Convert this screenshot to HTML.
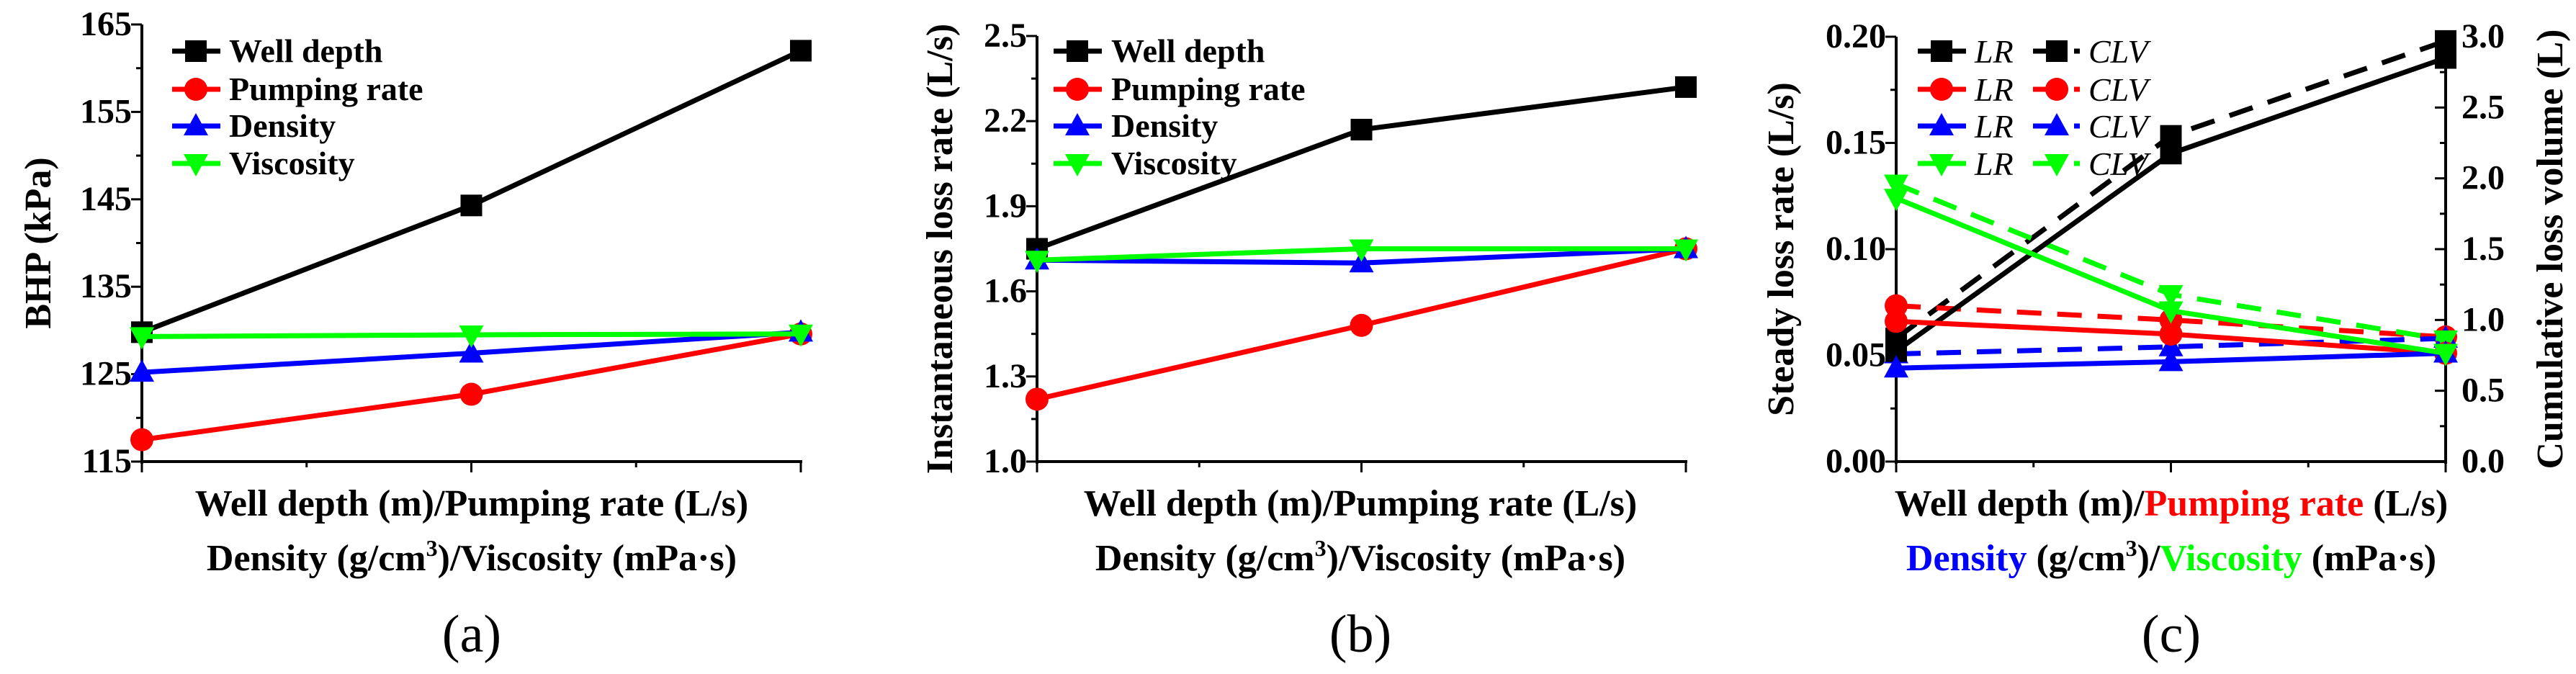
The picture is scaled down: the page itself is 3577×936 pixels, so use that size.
<!DOCTYPE html>
<html><head><meta charset="utf-8"><style>
html,body{margin:0;padding:0;background:#fff;}
svg{display:block;font-family:"Liberation Serif",serif;font-weight:bold;}
</style></head><body>
<svg id="fig" width="3577" height="936" viewBox="0 0 3577 936" xmlns="http://www.w3.org/2000/svg" font-family="Liberation Serif, serif" font-weight="bold"></svg>
<script>
const NS="http://www.w3.org/2000/svg";
const seriesNames=["Well depth","Pumping rate","Density","Viscosity"];
const colors=["#000000","#ff0000","#0000ff","#00ff00"];
const markers=["square","circle","up","down"];
// panel a
const aTicks=[115,125,135,145,155,165];
const aWell=[129.8,144.3,162.0];
const aPump=[117.5,122.7,129.6];
const aDens=[125.2,127.4,129.8];
const aVisc=[129.3,129.5,129.6];
// panel b
const bTicks=["1.0","1.3","1.6","1.9","2.2","2.5"];
const bWell=[1.75,2.17,2.32];
const bPump=[1.22,1.48,1.75];
const bDens=[1.71,1.70,1.75];
const bVisc=[1.71,1.75,1.75];
// panel c
const cLeftTicks=["0.00","0.05","0.10","0.15","0.20"];
const cRightTicks=["0.0","0.5","1.0","1.5","2.0","2.5","3.0"];
const cLRWell=[0.052,0.145,0.190];
const cLRPump=[0.066,0.060,0.051];
const cLRDens=[0.044,0.047,0.051];
const cLRVisc=[0.124,0.071,0.051];
const cCLVWell=[0.87,2.30,2.97];
const cCLVPump=[1.10,1.00,0.88];
const cCLVDens=[0.76,0.81,0.87];
const cCLVVisc=[1.96,1.18,0.86];

const svg=document.getElementById('fig');
function el(tag,attrs,parent){const e=document.createElementNS(NS,tag);for(const k in attrs)e.setAttribute(k,attrs[k]);(parent||svg).appendChild(e);return e;}
function txt(s,x,y,size,attrs,parent){const t=el('text',Object.assign({x:x,y:y,'font-size':size,'font-family':'Liberation Serif, serif'},attrs||{}),parent);t.textContent=s;return t;}
function marker(type,x,y,c,g){
  const s=15;
  let m;
  if(type==="square") m=el('rect',{x:x-s,y:y-s,width:2*s,height:2*s,fill:c},g);
  else if(type==="circle") m=el('circle',{cx:x,cy:y,r:s+1,fill:c},g);
  else if(type==="up") m=el('polygon',{points:`${x},${y-s-3} ${x-s-2},${y+s-2} ${x+s+2},${y+s-2}`,fill:c},g);
  else m=el('polygon',{points:`${x},${y+s+3} ${x-s-2},${y-s+2} ${x+s+2},${y-s+2}`,fill:c},g);
  
  
}
function series(vals,xf,yf,c,mk,dash,name){
  const g=el('g',{});
  
  
  const pts=vals.map((v,i)=>xf(i)+','+yf(v)).join(' ');
  const a={points:pts,fill:'none',stroke:c,'stroke-width':7};
  if(dash)a['stroke-dasharray']='34,22';
  el('polyline',a,g);
  vals.forEach((v,i)=>marker(mk,xf(i),yf(v),c,g));
}
function axesFrame(p,ticks,tickVals,lo,hi,ylabel,ylabX,name){
  const g=el('g',{});
  
  
  const y=v=>p.b-(v-lo)/(hi-lo)*(p.b-p.t);
  el('line',{x1:p.l,y1:p.t,x2:p.l,y2:p.b+3,stroke:'#000','stroke-width':4},g);
  el('line',{x1:p.l-2,y1:p.b,x2:p.r+2,y2:p.b,stroke:'#000','stroke-width':4},g);
  for(let i=0;i<tickVals.length;i++){
    const yy=y(tickVals[i]);
    el('line',{x1:p.l-15,y1:yy,x2:p.l,y2:yy,stroke:'#000','stroke-width':3},g);
    txt(ticks[i],p.l-14,yy+15,48,{'text-anchor':'end'},g);
    if(i<tickVals.length-1){const ym=y((tickVals[i]+tickVals[i+1])/2);
      el('line',{x1:p.l-8,y1:ym,x2:p.l,y2:ym,stroke:'#000','stroke-width':3},g);}
  }
  for(let k=0;k<=4;k++){const xx=p.l+(p.r-p.l)*k/4;
    el('line',{x1:xx,y1:p.b,x2:xx,y2:p.b+(k%2?8:15),stroke:'#000','stroke-width':3},g);}
  const yl=txt(ylabel,0,0,52,{'text-anchor':'middle',transform:`translate(${ylabX},${(p.t+p.b)/2}) rotate(-90)`},g);
  
  return y;
}
function xlabels(cx,letter,colored){
  const g=el('g',{});
  
  
  const t1=el('text',{x:cx,y:716,'font-size':52,'text-anchor':'middle','font-family':'Liberation Serif, serif'},g);
  const t2=el('text',{x:cx,y:792,'font-size':52,'text-anchor':'middle','font-family':'Liberation Serif, serif'},g);
  if(colored){
    t1.innerHTML='Well depth (m)/<tspan fill="#ff0000">Pumping rate</tspan> (L/s)';
    t2.innerHTML='<tspan fill="#0000ff">Density</tspan> (g/cm<tspan dy="-20" font-size="32">3</tspan><tspan dy="20">)/</tspan><tspan fill="#00ff00">Viscosity</tspan> (mPa·s)';
  } else {
    t1.textContent='Well depth (m)/Pumping rate (L/s)';
    t2.innerHTML='Density (g/cm<tspan dy="-20" font-size="32">3</tspan><tspan dy="20">)/Viscosity (mPa·s)</tspan>';
  }
  const l=txt('('+letter+')',cx,905,74,{'text-anchor':'middle','font-weight':'normal'});
  
  
}
function legend(lx,tx,rows){
  const g=el('g',{});
  
  
  rows.forEach((yy,i)=>{
    const e=el('g',{},g);
    
    
    el('line',{x1:lx,y1:yy,x2:lx+67,y2:yy,stroke:colors[i],'stroke-width':7},e);
    marker(markers[i],lx+33,yy,colors[i],e);
    txt(seriesNames[i],tx,yy+15,46,{},e);
  });
}
const legRows=[71,124,175,227];
// Panel a
(function(){
  const p={l:197,r:1112,t:34,b:641};
  const y=axesFrame(p,aTicks.map(String),aTicks,115,165,'BHP (kPa)',70,'panel-a');
  const x=i=>p.l+(p.r-p.l)*i/2;
  const data=[aWell,aPump,aDens,aVisc];
  data.forEach((d,i)=>series(d,x,y,colors[i],markers[i],false,'series-a-'+i));
  legend(239,318,legRows);
  xlabels(655,'a',false);
})();
// Panel b
(function(){
  const p={l:1440,r:2341,t:50,b:641};
  const y=axesFrame(p,bTicks,bTicks.map(Number),1.0,2.5,'Instantaneous loss rate (L/s)',1322,'panel-b');
  const x=i=>p.l+(p.r-p.l)*i/2;
  [bWell,bPump,bDens,bVisc].forEach((d,i)=>series(d,x,y,colors[i],markers[i],false,'series-b-'+i));
  legend(1463,1543,legRows);
  xlabels(1889,'b',false);
})();
// Panel c
(function(){
  const p={l:2633,r:3396,t:51,b:641};
  const y=axesFrame(p,cLeftTicks,cLeftTicks.map(Number),0,0.20,'Steady loss rate (L/s)',2490,'panel-c');
  const g=el('g',{});
  
  
  const rv=cRightTicks.map(Number);
  const y2=v=>p.b-v/3.0*(p.b-p.t);
  el('line',{x1:p.r,y1:p.t,x2:p.r,y2:p.b+3,stroke:'#000','stroke-width':4},g);
  rv.forEach((v,i)=>{
    el('line',{x1:p.r-15,y1:y2(v),x2:p.r,y2:y2(v),stroke:'#000','stroke-width':3},g);
    txt(cRightTicks[i],p.r+22,y2(v)+15,48,{},g);
    if(i<rv.length-1)el('line',{x1:p.r-8,y1:y2(v+0.25),x2:p.r,y2:y2(v+0.25),stroke:'#000','stroke-width':3},g);
  });
  const rl=txt('Cumulative loss volume (L)',0,0,52,{'text-anchor':'middle',transform:`translate(${3558},${(p.t+p.b)/2}) rotate(-90)`},g);
  
  const x=i=>p.l+(p.r-p.l)*i/2;
  [cCLVWell,cCLVPump,cCLVDens,cCLVVisc].forEach((d,i)=>series(d,x,y2,colors[i],markers[i],true,'series-clv-'+i));
  [cLRWell,cLRPump,cLRDens,cLRVisc].forEach((d,i)=>series(d,x,y,colors[i],markers[i],false,'series-lr-'+i));
  const lg=el('g',{});
  
  
  legRows.forEach((yy,i)=>{
    const e1=el('g',{},lg);
    
    
    el('line',{x1:2663,y1:yy,x2:2730,y2:yy,stroke:colors[i],'stroke-width':7},e1);
    marker(markers[i],2696,yy,colors[i],e1);
    txt('LR',2742,yy+16,46,{'font-style':'italic','font-weight':'normal'},e1);
    const e2=el('g',{},lg);
    
    
    el('line',{x1:2823,y1:yy,x2:2858,y2:yy,stroke:colors[i],'stroke-width':7},e2);
    el('line',{x1:2880,y1:yy,x2:2888,y2:yy,stroke:colors[i],'stroke-width':7},e2);
    marker(markers[i],2856,yy,colors[i],e2);
    txt('CLV',2900,yy+16,46,{'font-style':'italic','font-weight':'normal'},e2);
  });
  xlabels(3015,'c',true);
})();
</script>
</body></html>
